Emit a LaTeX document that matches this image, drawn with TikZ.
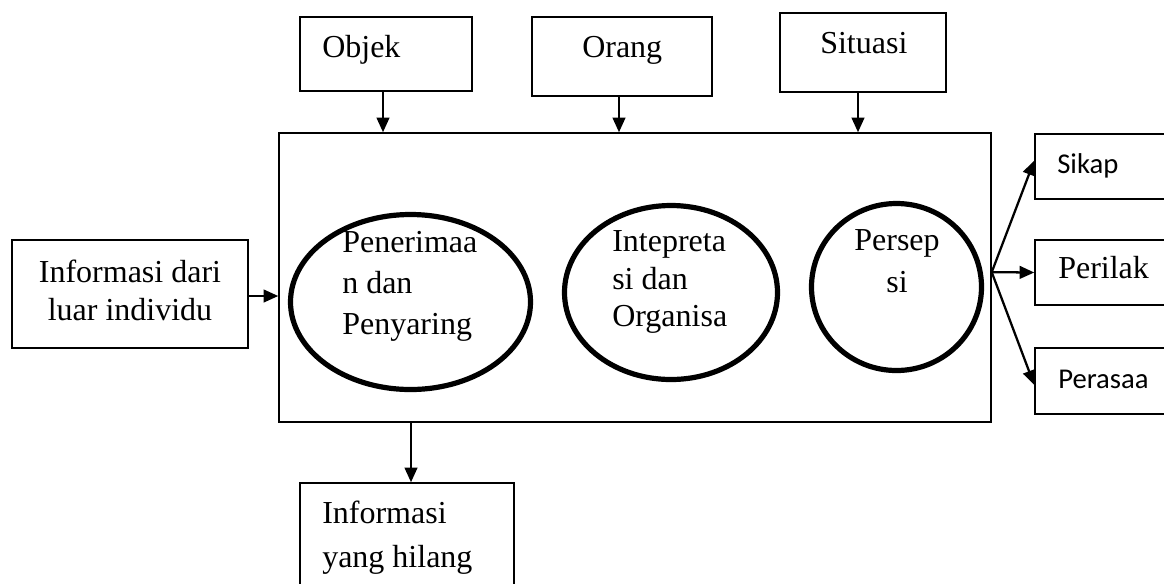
\documentclass[tikz,border=0pt]{standalone}
\usepackage{fontspec}
\setmainfont{Liberation Serif}
\newfontfamily\calibri{Carlito}
\usetikzlibrary{arrows.meta,shapes.geometric}
\begin{document}
\begin{tikzpicture}[x=0.75pt,y=-0.75pt,
  box/.style={draw,line width=1.1pt,rectangle,inner sep=0pt},
  oval/.style={draw,line width=3.9pt,ellipse,inner sep=0pt},
  txt/.style={inner sep=0pt,anchor=base west,font=\fontsize{24pt}{28.5pt}\selectfont},
  stxt/.style={inner sep=0pt,anchor=base west,font=\calibri\fontsize{21.5pt}{26pt}\selectfont},
  arr/.style={line width=1.7pt,-{Triangle[length=11pt,width=9.5pt]}},
]
\useasboundingbox (0,0) rectangle (1164,583);
\clip (0,0) rectangle (1164,583);
% main frame
\node[box,minimum width=534pt,minimum height=216.75pt] (main) at (635,277.5) {};
% top boxes
\node[box,minimum width=129pt,minimum height=55.5pt] (objek) at (386,54) {};
\node[box,minimum width=135pt,minimum height=59.25pt] (orang) at (622,56.5) {};
\node[box,minimum width=124.5pt,minimum height=59.25pt] (situasi) at (863,52.5) {};
\node[txt] (tobjek) at (322,57) {Objek};
\node[txt] (torang) at (582,57) {Orang};
\node[txt] (tsituasi) at (820,53) {Situasi};
% left box
\node[box,minimum width=177pt,minimum height=81pt] (info) at (130,294) {};
\node[txt,align=center,anchor=base] (tinfo) at (130,320) {Informasi dari\\luar individu};
% ellipses
\node[oval,minimum width=180pt,minimum height=131.25pt] (e1) at (410.5,302) {};
\node[oval,minimum width=159.75pt,minimum height=130.5pt] (e2) at (671,292.5) {};
\node[oval,minimum width=127.5pt,minimum height=125.25pt] (e3) at (896.5,287) {};
\node[txt,align=left,font=\fontsize{24pt}{30.5pt}\selectfont] (te1) at (342,334) {Penerimaa\\n dan\\Penyaring};
\node[txt,align=left,font=\fontsize{24pt}{28pt}\selectfont] (te2) at (612,326.5) {Intepreta\\si dan\\Organisa};
\node[txt,align=center,anchor=base,font=\fontsize{24pt}{31.5pt}\selectfont] (te3) at (897,292) {Persep\\si};
% right boxes
\node[box,minimum width=123.75pt,minimum height=48.75pt] (sikap) at (1117.5,166.5) {};
\node[box,minimum width=123.75pt,minimum height=48.75pt] (perilak) at (1117.5,272.5) {};
\node[box,minimum width=123.75pt,minimum height=49.5pt] (perasaa) at (1117.5,381) {};
\node[stxt] (tsikap) at (1057,173) {Sikap};
\node[txt] (tperilak) at (1058,278) {Perilak};
\node[stxt] (tperasaa) at (1058,388) {Perasaa};
% bottom box
\node[box,minimum width=160.5pt,minimum height=102.75pt] (hilang) at (407,551.5) {};
\node[txt,align=left,font=\fontsize{24pt}{33pt}\selectfont] (thilang) at (322,567) {Informasi\\yang hilang};
% arrows
\draw[arr] ([xshift=-2.25pt]objek.south) -- ([xshift=-2.25pt]objek.south |- main.north);
\draw[arr] ([xshift=-2.25pt]orang.south) -- ([xshift=-2.25pt]orang.south |- main.north);
\draw[arr] ([xshift=-3.75pt]situasi.south) -- ([xshift=-3.75pt]situasi.south |- main.north);
\draw[arr] ([yshift=-1.5pt]info.east) -- ([yshift=-1.5pt]info.east -| main.west);
\draw[arr] ([xshift=3pt]hilang.north |- main.south) -- ([xshift=3pt]hilang.north);
\coordinate (fan) at ([yshift=4pt]main.east);
\draw[arr] (fan) -- ([yshift=4.5pt]sikap.west);
\draw[arr] (fan) -- (perilak.west);
\draw[arr] (fan) -- ([yshift=-3pt]perasaa.west);
\end{tikzpicture}
\end{document}
